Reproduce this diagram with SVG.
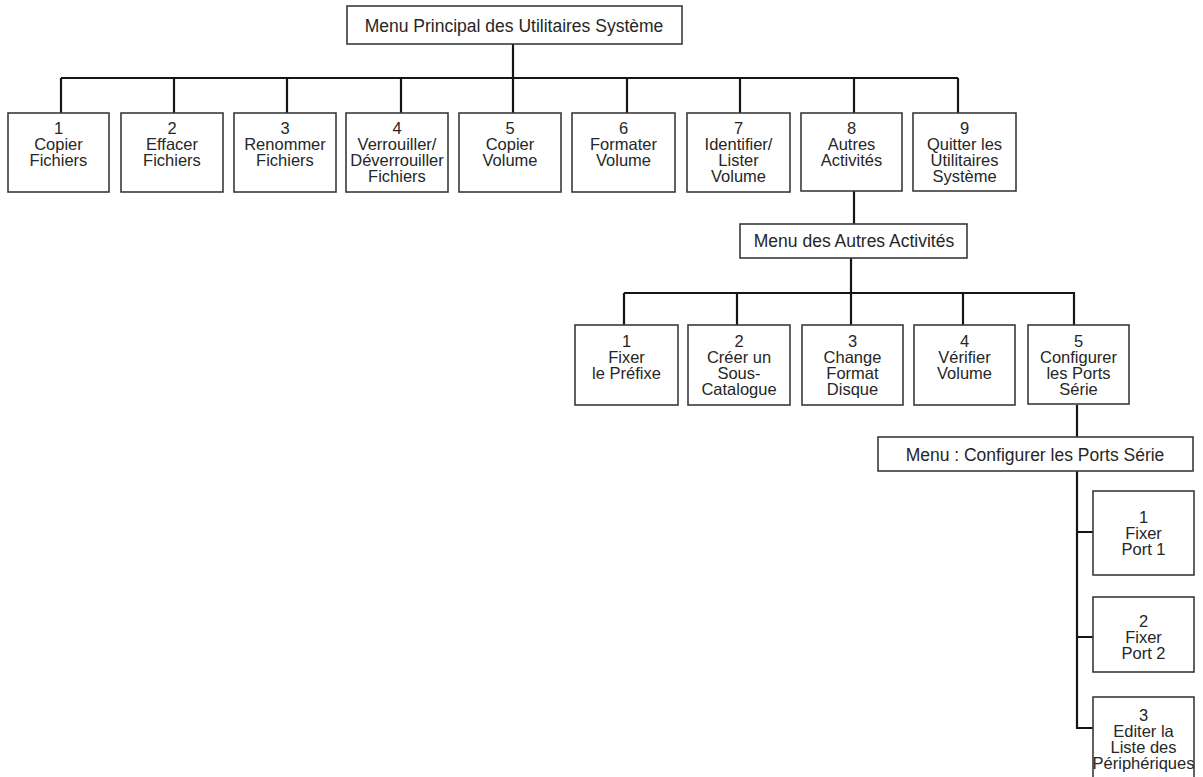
<svg xmlns="http://www.w3.org/2000/svg" width="1203" height="777" viewBox="0 0 1203 777">
<style>
  .box { fill: #ffffff; stroke: #3a3a3a; stroke-width: 1.6; }
  .lbl { font-family: "Liberation Sans", Arial, sans-serif; font-size: 16.5px; fill: #262626; text-anchor: middle; }
  .hd { font-family: "Liberation Sans", Arial, sans-serif; font-size: 17.5px; fill: #262626; text-anchor: middle; }
  .conn { fill: none; stroke: #151515; stroke-width: 2.2; }
</style>
<rect width="1203" height="777" fill="#ffffff"/>

<g id="connectors">
  <path class="conn" d="M513 44 V78"/>
  <path class="conn" d="M61 78 H958"/>
  <path class="conn" d="M61 78 V113 M174 78 V113 M287 78 V113 M401 78 V113 M513 78 V113 M627 78 V113 M740 78 V113 M854 78 V113 M958 78 V113"/>
  <path class="conn" d="M854 191 V224"/>
  <path class="conn" d="M851 258 V293"/>
  <path class="conn" d="M624 293 H1075"/>
  <path class="conn" d="M624 293 V325 M737 293 V325 M851 293 V325 M963 293 V325 M1074 293 V325"/>
  <path class="conn" d="M1077 405 V437"/>
  <path class="conn" d="M1077 471 V729"/>
  <path class="conn" d="M1076 532 H1093 M1076 637 H1093 M1076 728 H1093"/>
</g>

<g id="main-menu">
  <rect class="box" x="347" y="6" width="335" height="38"/>
  <text class="hd" x="514" y="32">Menu Principal des Utilitaires Système</text>
</g>

<g id="m1">
  <rect class="box" x="8" y="113" width="101" height="79"/>
  <text class="lbl"><tspan x="58.5" y="134">1</tspan><tspan x="58.5" y="150">Copier</tspan><tspan x="58.5" y="166">Fichiers</tspan></text>
</g>
<g id="m2">
  <rect class="box" x="121" y="113" width="102" height="79"/>
  <text class="lbl"><tspan x="172" y="134">2</tspan><tspan x="172" y="150">Effacer</tspan><tspan x="172" y="166">Fichiers</tspan></text>
</g>
<g id="m3">
  <rect class="box" x="234" y="113" width="102" height="79"/>
  <text class="lbl"><tspan x="285" y="134">3</tspan><tspan x="285" y="150">Renommer</tspan><tspan x="285" y="166">Fichiers</tspan></text>
</g>
<g id="m4">
  <rect class="box" x="346" y="113" width="102" height="79"/>
  <text class="lbl"><tspan x="397" y="134">4</tspan><tspan x="397" y="150">Verrouiller/</tspan><tspan x="397" y="166">Déverrouiller</tspan><tspan x="397" y="182">Fichiers</tspan></text>
</g>
<g id="m5">
  <rect class="box" x="459" y="113" width="102" height="79"/>
  <text class="lbl"><tspan x="510" y="134">5</tspan><tspan x="510" y="150">Copier</tspan><tspan x="510" y="166">Volume</tspan></text>
</g>
<g id="m6">
  <rect class="box" x="572" y="113" width="103" height="79"/>
  <text class="lbl"><tspan x="623.5" y="134">6</tspan><tspan x="623.5" y="150">Formater</tspan><tspan x="623.5" y="166">Volume</tspan></text>
</g>
<g id="m7">
  <rect class="box" x="687" y="113" width="103" height="79"/>
  <text class="lbl"><tspan x="738.5" y="134">7</tspan><tspan x="738.5" y="150">Identifier/</tspan><tspan x="738.5" y="166">Lister</tspan><tspan x="738.5" y="182">Volume</tspan></text>
</g>
<g id="m8">
  <rect class="box" x="801" y="113" width="101" height="78"/>
  <text class="lbl"><tspan x="851.5" y="134">8</tspan><tspan x="851.5" y="150">Autres</tspan><tspan x="851.5" y="166">Activités</tspan></text>
</g>
<g id="m9">
  <rect class="box" x="913" y="113" width="103" height="78"/>
  <text class="lbl"><tspan x="964.5" y="134">9</tspan><tspan x="964.5" y="150">Quitter les</tspan><tspan x="964.5" y="166">Utilitaires</tspan><tspan x="964.5" y="182">Système</tspan></text>
</g>

<g id="autres-menu">
  <rect class="box" x="740" y="224" width="227" height="34"/>
  <text class="hd" x="854" y="247">Menu des Autres Activités</text>
</g>

<g id="a1">
  <rect class="box" x="575" y="325" width="103" height="80"/>
  <text class="lbl"><tspan x="626.5" y="347">1</tspan><tspan x="626.5" y="363">Fixer</tspan><tspan x="626.5" y="379">le Préfixe</tspan></text>
</g>
<g id="a2">
  <rect class="box" x="688" y="325" width="102" height="80"/>
  <text class="lbl"><tspan x="739" y="347">2</tspan><tspan x="739" y="363">Créer un</tspan><tspan x="739" y="379">Sous-</tspan><tspan x="739" y="395">Catalogue</tspan></text>
</g>
<g id="a3">
  <rect class="box" x="802" y="325" width="101" height="80"/>
  <text class="lbl"><tspan x="852.5" y="347">3</tspan><tspan x="852.5" y="363">Change</tspan><tspan x="852.5" y="379">Format</tspan><tspan x="852.5" y="395">Disque</tspan></text>
</g>
<g id="a4">
  <rect class="box" x="914" y="325" width="101" height="80"/>
  <text class="lbl"><tspan x="964.5" y="347">4</tspan><tspan x="964.5" y="363">Vérifier</tspan><tspan x="964.5" y="379">Volume</tspan></text>
</g>
<g id="a5">
  <rect class="box" x="1028" y="325" width="101" height="79"/>
  <text class="lbl"><tspan x="1078.5" y="347">5</tspan><tspan x="1078.5" y="363">Configurer</tspan><tspan x="1078.5" y="379">les Ports</tspan><tspan x="1078.5" y="395">Série</tspan></text>
</g>

<g id="ports-menu">
  <rect class="box" x="878" y="437" width="315" height="34"/>
  <text class="hd" x="1035" y="461">Menu : Configurer les Ports Série</text>
</g>

<g id="p1">
  <rect class="box" x="1093" y="491" width="101" height="84"/>
  <text class="lbl"><tspan x="1143.5" y="523">1</tspan><tspan x="1143.5" y="539">Fixer</tspan><tspan x="1143.5" y="555">Port 1</tspan></text>
</g>
<g id="p2">
  <rect class="box" x="1093" y="597" width="101" height="75"/>
  <text class="lbl"><tspan x="1143.5" y="627">2</tspan><tspan x="1143.5" y="643">Fixer</tspan><tspan x="1143.5" y="659">Port 2</tspan></text>
</g>
<g id="p3">
  <rect class="box" x="1093" y="697" width="101" height="95"/>
  <text class="lbl"><tspan x="1143.5" y="721">3</tspan><tspan x="1143.5" y="737">Editer la</tspan><tspan x="1143.5" y="753">Liste des</tspan><tspan x="1143.5" y="769">Périphériques</tspan></text>
</g>
</svg>
